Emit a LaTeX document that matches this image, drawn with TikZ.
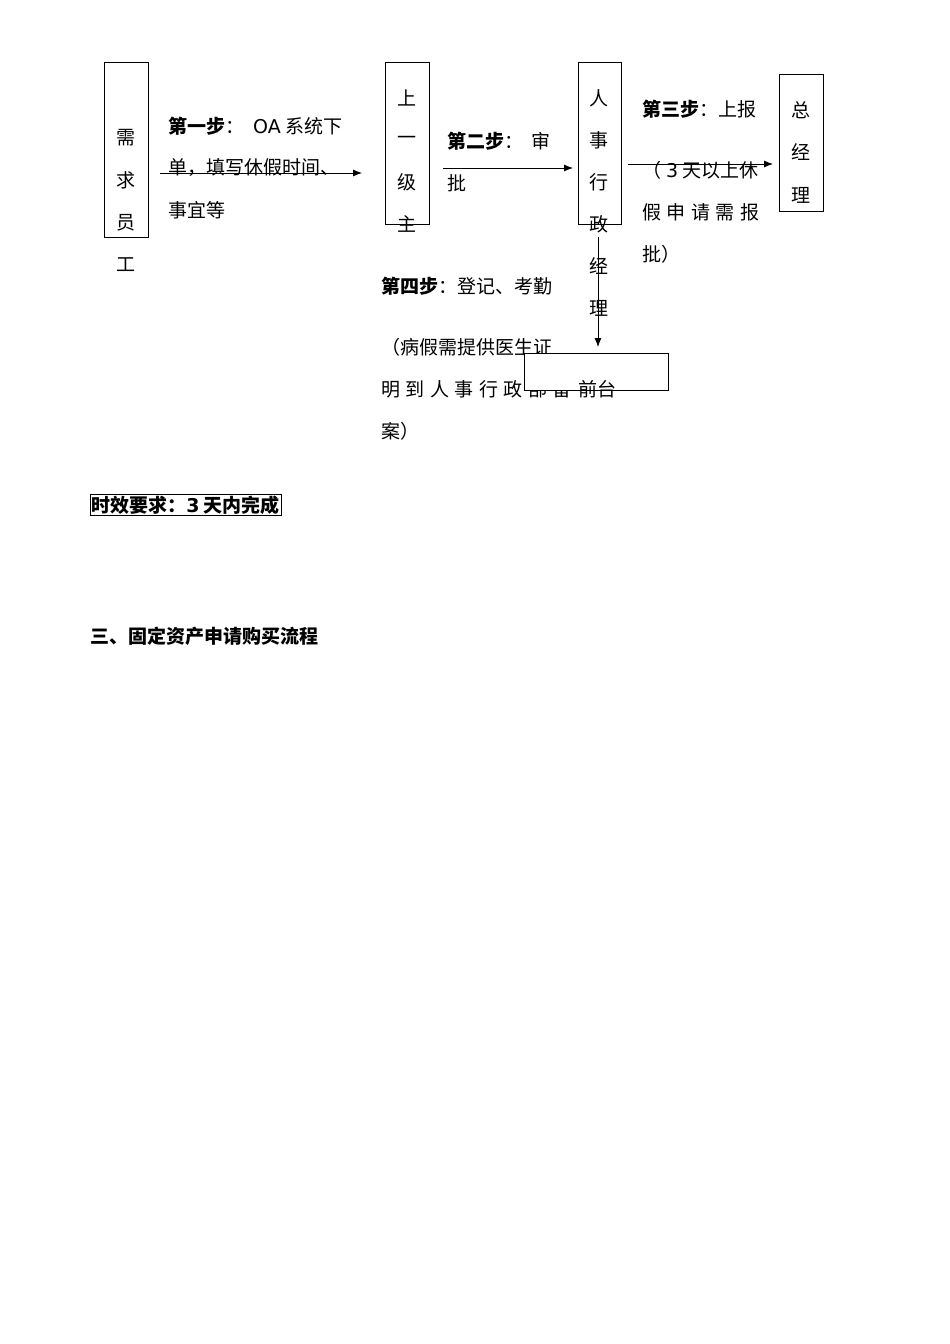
\documentclass[tikz,border=0pt]{standalone}
\usepackage{fontspec}
\setmainfont{Noto Sans CJK SC}
\newfontfamily\latin{DejaVu Sans}
\usetikzlibrary{arrows.meta}
\tikzset{
  box/.style={draw, line width=0.8pt, inner sep=0pt, outer sep=0pt, minimum width=44pt, minimum height=#1},
  ch/.style={inner sep=0pt, font=\fontsize{19}{19}\selectfont},
  txt/.style={anchor=west, inner sep=0pt, font=\fontsize{19}{19}\selectfont},
  arr/.style={line width=0.8pt, -{Latex[length=9pt,width=7pt]}}
}
\def\sp{\hskip 5.5pt}

\begin{document}
\begin{tikzpicture}[x=1pt, y=-1pt]
  \useasboundingbox[fill=white] (0,0) rectangle (950,1344);
  %%%%% START %%%%%

  \node[box=175pt] (need) at (126,149.5) {};
  \node[box=162pt] (sup) at (407,143) {};
  \node[box=162pt, minimum width=43pt] (hr) at (599.5,143) {};
  \node[box=137pt] (gm) at (801,142.5) {};

  \foreach \c [count=\i] in {需,求,员,工}
    \node[ch] (need\i) at (126,{138+42.3*(\i-1)}) {\c};
  \foreach \c [count=\i] in {上,一,级,主}
    \node[ch] (sup\i) at (407,{98+42*(\i-1)}) {\c};
  \foreach \c [count=\i] in {人,事,行,政,经,理}
    \node[ch] (hr\i) at (599,{98+42*(\i-1)}) {\c};
  \foreach \c [count=\i] in {总,经,理}
    \node[ch] (gm\i) at (801,{110+42.5*(\i-1)}) {\c};

  \node[txt] (s1a) at (168,126) {\textbf{第一步}：\hskip 9pt{\latin OA} 系统下};
  \node[txt] (s1b) at (168,168) {单，填写休假时间、};
  \node[txt] (s1c) at (168,210) {事宜等};

  \node[txt] (s2a) at (447,141) {\textbf{第二步}：\hskip 8pt 审};
  \node[txt] (s2b) at (447,183) {批};

  \node[txt] (s3a) at (642,109) {\textbf{第三步}：上报};
  \node[txt] (s3b) at (642,170) {（\hskip 5pt{\latin 3} 天以上休};
  \node[txt] (s3c) at (642,212) {假\sp 申\sp 请\sp 需\sp 报};
  \node[txt] (s3d) at (642,254) {批）};

  \node[txt] (s4a) at (381,286) {\textbf{第四步}：登记、考勤};
  \node[txt] (s4b) at (381,347) {（病假需提供医生证};
  \node[txt] (s4c) at (381,389) {明\sp 到\sp 人\sp 事\sp 行\sp 政\sp 部\sp 备};
  \node[txt] (s4d) at (381,431) {案）};

  \node[box=37pt, minimum width=144pt, fill=white] (front) at (596,371.5) {};
  \node[ch] (front1) at (597,389) {前台};

  \draw[arr, shorten <=12pt, shorten >=23pt] (need.east |- 0,173) -- (sup.west |- 0,173);
  \draw[arr, shorten <=14pt, shorten >=5pt] (sup.east |- 0,168) -- (hr.west |- 0,168);
  \draw[arr, shorten <=7pt, shorten >=6pt] (hr.east |- 0,164) -- (gm.west |- 0,164);
  \draw[arr, shorten <=13pt, shorten >=6pt] (598,224) coordinate (hrs) -- (hrs |- front.north);

  \node[txt, draw, line width=0.6pt, inner sep=1pt] (limit) at (90,505) {\textbf{时效要求：{\latin 3} 天内完成}};
  \node[txt] (title) at (90,636) {\textbf{三、固定资产申请购买流程}};

  %%%%% END %%%%%
\end{tikzpicture}
\end{document}
